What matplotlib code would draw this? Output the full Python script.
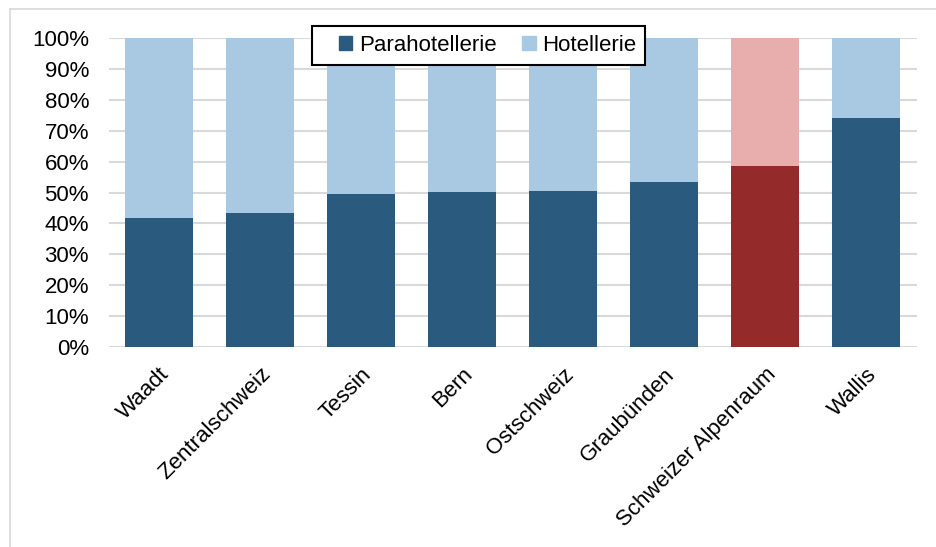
import matplotlib.pyplot as plt
import numpy as np
from matplotlib.legend_handler import HandlerPatch
from matplotlib.lines import Line2D
from matplotlib.patches import Patch, Rectangle

regions = ["Waadt", "Zentralschweiz", "Tessin", "Bern", "Ostschweiz",
           "Graubünden", "Schweizer Alpenraum", "Wallis"]
para = [41.7, 43.4, 49.5, 50.2, 50.5, 53.4, 58.6, 74.1]
hotel = [100 - p for p in para]
highlight = "Schweizer Alpenraum"

DARK = "#2A5A7E"
LIGHT = "#A9C8E2"
RED_DARK = "#952A2B"
RED_LIGHT = "#E8AEAE"

plt.rcParams["font.family"] = ["Liberation Sans", "DejaVu Sans"]

fig = plt.figure(figsize=(9.37, 5.47), dpi=100)
ax = fig.add_axes([0.1158, 0.3656, 0.8624, 0.5649])

x = np.arange(len(regions))
c_para = [RED_DARK if r == highlight else DARK for r in regions]
c_hotel = [RED_LIGHT if r == highlight else LIGHT for r in regions]
ax.bar(x, para, width=0.67, color=c_para, zorder=3)
ax.bar(x, hotel, width=0.67, bottom=para, color=c_hotel, zorder=3)

ax.set_ylim(0, 100)
ax.set_xlim(-0.5, len(regions) - 0.5)
ax.set_yticks(np.arange(0, 101, 10))
ax.set_yticklabels([f"{v}%" for v in range(0, 101, 10)], fontsize=16)
ax.set_xticks(x)
ax.set_xticklabels(regions, rotation=45, ha="right", rotation_mode="anchor", fontsize=16)
ax.tick_params(axis="y", length=0, pad=14)
ax.tick_params(axis="x", length=0, pad=12)
ax.yaxis.grid(True, color="#D9D9D9", linewidth=1.5, zorder=0)
for s in ax.spines.values():
    s.set_visible(False)


# square marker pushed to the right end of the handle box
def square_right(legend, orig_handle, xdescent, ydescent, width, height, fontsize):
    side = height
    return Rectangle((-xdescent + width - side, -ydescent), side, side)


handles = [Patch(color=DARK, label="Parahotellerie"),
           Patch(color=LIGHT, label="Hotellerie")]
leg = fig.legend(handles=handles, loc="center", bbox_to_anchor=(0.511, 0.917),
                 ncol=2, fontsize=16, frameon=True, fancybox=False,
                 handlelength=1.4, handleheight=0.55, handletextpad=0.3,
                 columnspacing=0.35, borderpad=0.4, borderaxespad=0,
                 framealpha=1,
                 handler_map={Patch: HandlerPatch(patch_func=square_right)})
leg.get_frame().set_edgecolor("black")
leg.get_frame().set_linewidth(1.5)

# outer frame lines (left and top)
fig.add_artist(Line2D([10 / 937, 10 / 937], [0, 1 - 9 / 547],
                      transform=fig.transFigure, color="#D9D9D9", lw=1.2))
fig.add_artist(Line2D([10 / 937, 1], [1 - 9 / 547, 1 - 9 / 547],
                      transform=fig.transFigure, color="#D9D9D9", lw=1.2))

fig.savefig("out.png", dpi=100)
